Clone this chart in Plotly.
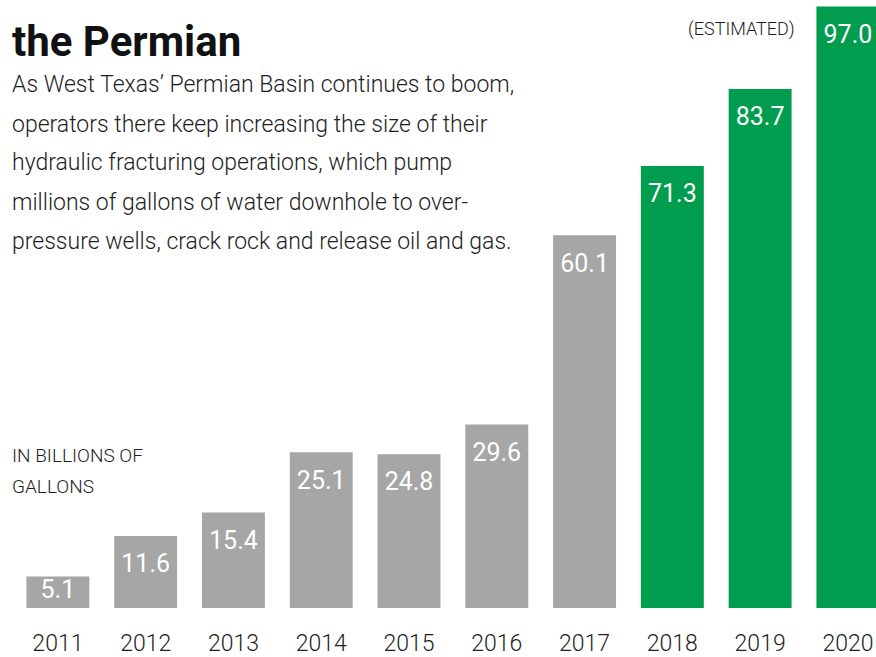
import plotly.graph_objects as go

years = ["2011", "2012", "2013", "2014", "2015", "2016", "2017", "2018", "2019", "2020"]
volumes = [5.1, 11.6, 15.4, 25.1, 24.8, 29.6, 60.1, 71.3, 83.7, 97.0]
estimated = [False, False, False, False, False, False, False, True, True, True]
value_labels = ["5.1", "11.6", "15.4", "25.1", "24.8", "29.6", "60.1", "71.3", "83.7", "97.0"]

subtitle_lines = [
    "As West Texas’ Permian Basin continues to boom,",
    "operators there keep increasing the size of their",
    "hydraulic fracturing operations, which pump",
    "millions of gallons of water downhole to over-",
    "pressure wells, crack rock and release oil and gas.",
]
unit_lines = ["IN BILLIONS OF", "GALLONS"]

GRAY = "#a6a6a6"
GREEN = "#009d4f"
FONT = "Roboto, Liberation Sans, sans-serif"
TXT = "#1e1e1e"

W, H = 876, 657
ML, MB = 14, 49
PH = H - MB  # plot height in px
YMAX = 98.06
PXU = PH / YMAX

colors = [GREEN if e else GRAY for e in estimated]

fig = go.Figure(go.Bar(
    x=years, y=volumes, marker=dict(color=colors, line=dict(width=0)),
    hoverinfo="skip", showlegend=False,
))

# value labels inside the bars, near the top
label_y = [v - 30 / PXU if v * PXU >= 60 else v / 2 for v in volumes]
fig.add_trace(go.Scatter(
    x=years, y=label_y, mode="text", text=value_labels, textposition="middle center",
    textfont=dict(family=FONT, size=25, color="white"), hoverinfo="skip", showlegend=False,
))

def py(p):
    return (PH - p) / PH

annotations = []
annotations.append(dict(x=0, y=py(42), xref="paper", yref="paper", xanchor="left", yanchor="middle",
                        xshift=-4, text="<b>the Permian</b>", showarrow=False,
                        font=dict(family=FONT, size=42, color="#111")))
for i, line in enumerate(subtitle_lines):
    annotations.append(dict(x=0, y=py(85 + 39 * i), xref="paper", yref="paper", xanchor="left",
                            yanchor="middle", xshift=-4, text=line, showarrow=False, align="left",
                            font=dict(family=FONT, size=23, color=TXT, weight=300)))
for i, line in enumerate(unit_lines):
    annotations.append(dict(x=0, y=py(455 + 31 * i), xref="paper", yref="paper", xanchor="left",
                            yanchor="middle", xshift=-4, text=line, showarrow=False, align="left",
                            font=dict(family=FONT, size=19, color=TXT, weight=300)))
annotations.append(dict(x=(797 - ML) / (W - ML), y=py(29), xref="paper", yref="paper", xanchor="right",
                        yanchor="middle", text="(ESTIMATED)", showarrow=False,
                        font=dict(family=FONT, size=18, color=TXT, weight=300)))

fig.update_layout(
    width=W, height=H,
    margin=dict(l=ML, r=0, t=0, b=MB, pad=0),
    paper_bgcolor="white", plot_bgcolor="white",
    bargap=0.283,
    xaxis=dict(type="category", range=[-0.5, 9.32], showgrid=False, zeroline=False, showline=False,
               ticks="", ticklabelstandoff=19, fixedrange=True,
               tickfont=dict(family=FONT, size=23, color=TXT, weight=300)),
    yaxis=dict(range=[0, YMAX], visible=False, fixedrange=True),
    annotations=annotations,
)

fig.write_html("out.html", config={"displayModeBar": False},
               post_script="document.body.style.margin='0px';")
